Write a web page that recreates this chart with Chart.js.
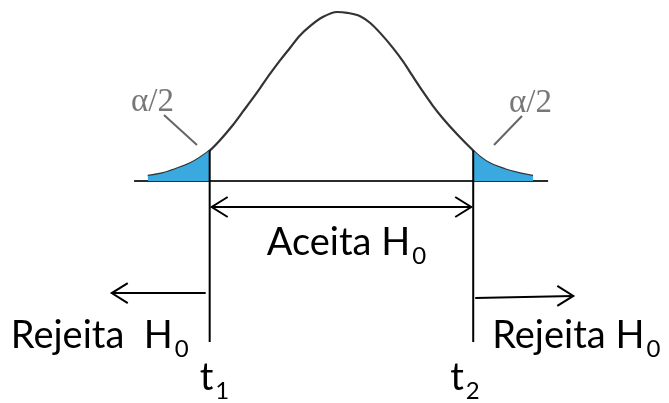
<!DOCTYPE html>
<html>
<head>
<meta charset="utf-8">
<script src="https://cdn.jsdelivr.net/npm/chart.js@4.4.1/dist/chart.umd.min.js"></script>
<style>
  html, body { margin: 0; padding: 0; background: #fff; }
  canvas { display: block; }
</style>
</head>
<body>
<canvas id="tChart" width="669" height="403"></canvas>
<script>
// curva da distribuição t (x em desvios, altura relativa ao pico)
const curveX = [-2.67, -2.47, -2.29, -2.08, -1.94, -1.81, -1.67, -1.49, -1.35, -1.21, -1.11, -0.97, -0.83, -0.69, -0.56, -0.42, -0.24, -0.04,
                0.10, 0.28, 0.42, 0.56, 0.74, 0.88, 1.01, 1.15, 1.29, 1.43, 1.63, 1.85, 1.94, 2.08, 2.29, 2.50, 2.68];
const curveY = [0.03, 0.045, 0.07, 0.105, 0.14, 0.18, 0.24, 0.33, 0.41, 0.49, 0.55, 0.635, 0.715, 0.79, 0.86, 0.915, 0.97, 1.00,
                0.995, 0.975, 0.935, 0.875, 0.785, 0.705, 0.62, 0.53, 0.445, 0.37, 0.275, 0.18, 0.145, 0.105, 0.07, 0.045, 0.03];

// valores críticos
const T1 = -1.81;
const T2 = 1.85;

// eixo horizontal
const axisFrom = -2.86;
const axisTo = 2.89;

const labelAccept = ["Aceita H", "0"];
const labelRejectLeft = ["Rejeita  H", "0"];
const labelRejectRight = ["Rejeita H", "0"];
const labelT1 = ["t", "1"];
const labelT2 = ["t", "2"];
const labelAlpha = "α/2";

const curvePts = curveX.map((x, i) => ({ x: x, y: curveY[i] }));
const leftTail = curvePts.filter(p => p.x <= T1);
const rightTail = curvePts.filter(p => p.x >= T2);

const MAIN_FONT = "38px Lato";
const SUB_FONT = "24px Lato";

function drawSub(ctx, parts, x, y, align) {
    ctx.font = MAIN_FONT;
    const w1 = ctx.measureText(parts[0]).width;
    ctx.font = SUB_FONT;
    const w2 = ctx.measureText(parts[1]).width;
    const total = w1 + 2 + w2;
    let left = x;
    if (align === "center") left = x - total / 2;
    if (align === "right") left = x - total;
    ctx.textAlign = "left";
    ctx.textBaseline = "alphabetic";
    ctx.font = MAIN_FONT;
    ctx.fillText(parts[0], left, y);
    ctx.font = SUB_FONT;
    ctx.fillText(parts[1], left + w1 + 2, y + 9);
}

function arrowHead(ctx, x, y, dir) {
    ctx.beginPath();
    ctx.moveTo(x - dir * 16, y - 10);
    ctx.lineTo(x, y);
    ctx.lineTo(x - dir * 16, y + 10);
    ctx.stroke();
}

const annotations = {
    id: "annotations",
    afterDatasetsDraw(chart) {
        const ctx = chart.ctx;
        const xs = chart.scales.x;
        const ys = chart.scales.y;
        const px1 = xs.getPixelForValue(T1);
        const px2 = xs.getPixelForValue(T2);
        const top1 = ys.getPixelForValue(leftTail[leftTail.length - 1].y);
        const top2 = ys.getPixelForValue(rightTail[0].y);
        const bottom = ys.getPixelForValue(-0.953);

        ctx.save();
        ctx.strokeStyle = "#000";
        ctx.fillStyle = "#000";
        ctx.lineWidth = 2;

        // linhas verticais dos valores críticos
        ctx.beginPath();
        ctx.moveTo(px1, top1);
        ctx.lineTo(px1, bottom);
        ctx.moveTo(px2, top2);
        ctx.lineTo(px2, bottom);
        ctx.stroke();

        // região de aceitação
        const ay = ys.getPixelForValue(-0.154);
        ctx.beginPath();
        ctx.moveTo(px1 + 2, ay);
        ctx.lineTo(px2 - 2, ay);
        ctx.stroke();
        arrowHead(ctx, px1 + 2, ay, -1);
        arrowHead(ctx, px2 - 2, ay, 1);

        // regiões de rejeição
        const ly = ys.getPixelForValue(-0.663);
        const lx = xs.getPixelForValue(-3.17);
        ctx.beginPath();
        ctx.moveTo(px1 - 4, ly);
        ctx.lineTo(lx, ly);
        ctx.stroke();
        arrowHead(ctx, lx, ly, -1);

        const ry1 = ys.getPixelForValue(-0.692);
        const ry2 = ys.getPixelForValue(-0.68);
        const rx = xs.getPixelForValue(3.24);
        ctx.beginPath();
        ctx.moveTo(px2 + 2, ry1);
        ctx.lineTo(rx, ry2);
        ctx.stroke();
        arrowHead(ctx, rx, ry2, 1);

        // textos
        drawSub(ctx, labelAccept, (px1 + px2) / 2 + 5, ay + 48, "center");
        drawSub(ctx, labelRejectLeft, px1 - 21, 348, "right");
        drawSub(ctx, labelRejectRight, px2 + 19, 348, "left");
        drawSub(ctx, labelT1, px1 - 10, 390, "left");
        drawSub(ctx, labelT2, px2 - 23, 390, "left");

        // alfa/2 com traço indicador
        ctx.fillStyle = "#777";
        ctx.strokeStyle = "#666";
        ctx.font = "33px 'Liberation Serif'";
        ctx.textAlign = "left";
        ctx.fillText(labelAlpha, 131, 111);
        ctx.fillText(labelAlpha, 509, 112);
        ctx.beginPath();
        ctx.moveTo(164, 115);
        ctx.lineTo(197, 145);
        ctx.moveTo(522, 116);
        ctx.lineTo(494, 145);
        ctx.stroke();
        ctx.restore();
    }
};

const ctx = document.getElementById("tChart").getContext("2d");

new Chart(ctx, {
    type: "scatter",
    data: {
        datasets: [
            {
                data: leftTail,
                showLine: true,
                borderWidth: 0,
                pointRadius: 0,
                fill: "origin",
                backgroundColor: "#39a9e0",
                cubicInterpolationMode: "monotone"
            },
            {
                data: rightTail,
                showLine: true,
                borderWidth: 0,
                pointRadius: 0,
                fill: "origin",
                backgroundColor: "#39a9e0",
                cubicInterpolationMode: "monotone"
            },
            {
                data: [{ x: axisFrom, y: 0 }, { x: axisTo, y: 0 }],
                showLine: true,
                borderColor: "#2b2b2b",
                borderWidth: 2,
                pointRadius: 0
            },
            {
                data: curvePts,
                showLine: true,
                borderColor: "#333",
                borderWidth: 2.2,
                pointRadius: 0,
                cubicInterpolationMode: "monotone"
            }
        ]
    },
    options: {
        responsive: false,
        animation: false,
        layout: { padding: 0 },
        plugins: {
            legend: { display: false },
            tooltip: { enabled: false }
        },
        scales: {
            x: { type: "linear", display: false, min: -4.722, max: 4.569 },
            y: { type: "linear", display: false, min: -1.3136, max: 1.071 }
        }
    },
    plugins: [annotations]
});
</script>
</body>
</html>
